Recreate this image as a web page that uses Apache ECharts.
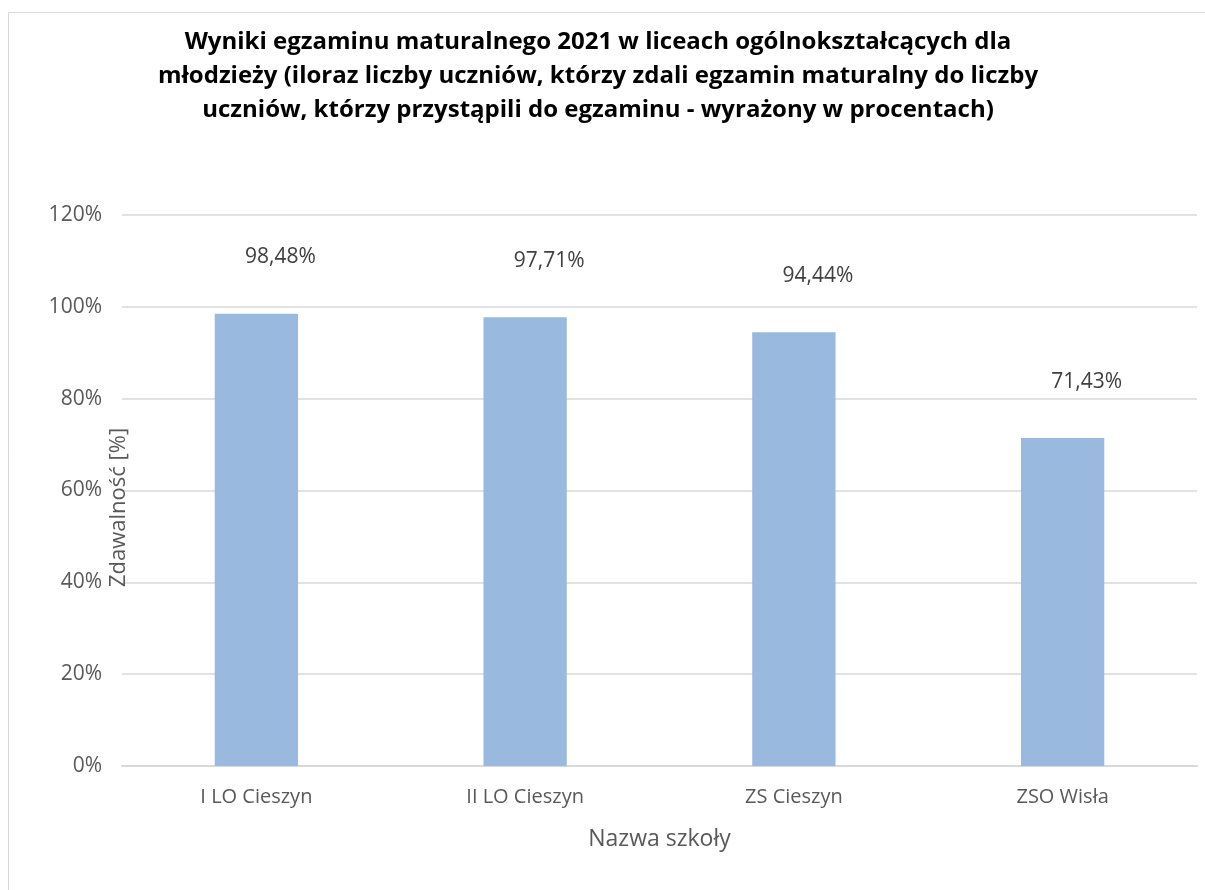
<!DOCTYPE html>
<html>
<head>
<meta charset="utf-8">
<script src="https://cdn.jsdelivr.net/npm/echarts@6/dist/echarts.min.js"></script>
<style>
  html, body { margin: 0; padding: 0; background: #fff; }
  #chart { width: 1205px; height: 890px; }
</style>
</head>
<body>
<div id="chart"></div>
<script>
// dane z wykresu
const schools = ["I LO Cieszyn", "II LO Cieszyn", "ZS Cieszyn", "ZSO Wisła"];
const passRate = [98.48, 97.71, 94.44, 71.43];
const titleText = "Wyniki egzaminu maturalnego 2021 w liceach ogólnokształcących dla\nmłodzieży (iloraz liczby uczniów, którzy zdali egzamin maturalny do liczby\nuczniów, którzy przystąpili do egzaminu - wyrażony w procentach)";

const font = "'Open Sans', 'Noto Sans', sans-serif";
const chart = echarts.init(document.getElementById("chart"));
chart.setOption({
    animation: false,
    textStyle: { fontFamily: font },
    graphic: [
        {
            type: "rect",
            shape: { x: 8.5, y: 12.5, width: 1400, height: 1000 },
            style: { fill: "none", stroke: "#d9d9d9", lineWidth: 1 },
            silent: true,
        },
    ],
    title: {
        text: titleText,
        left: 593,
        top: 20,
        textAlign: "center",
        textStyle: {
            fontFamily: font,
            fontSize: 24,
            fontWeight: "bold",
            color: "#000",
            lineHeight: 34,
        },
    },
    grid: { left: 122, right: 8, top: 215, bottom: 124, containLabel: false },
    xAxis: {
        type: "category",
        data: schools,
        name: "Nazwa szkoły",
        nameLocation: "middle",
        nameGap: 62,
        nameTextStyle: { fontSize: 23, color: "#595959", fontFamily: font },
        axisLine: { lineStyle: { color: "#d9d9d9", width: 2 } },
        axisTick: { show: false },
        axisLabel: { fontSize: 20, color: "#595959", margin: 21 },
    },
    yAxis: {
        type: "value",
        min: 0,
        max: 120,
        interval: 20,
        name: "Zdawalność [%]",
        nameLocation: "middle",
        nameRotate: 90,
        nameGap: -8,
        nameMoveOverlap: false,
        nameTextStyle: {
            fontSize: 22,
            color: "#595959",
            fontFamily: font,
            padding: [0, 34, 0, 0],
        },
        axisLine: { show: false },
        axisTick: { show: false },
        axisLabel: {
            fontSize: 21,
            color: "#595959",
            margin: 20,
            formatter: (v) => v + "%",
        },
        splitLine: { lineStyle: { color: "#d9d9d9", width: 1.5 } },
    },
    series: [
        {
            type: "bar",
            data: passRate,
            barWidth: "31%",
            itemStyle: { color: "#99b9df" },
            label: {
                show: true,
                position: "top",
                distance: 46,
                offset: [24, 0],
                fontSize: 21,
                color: "#404040",
                formatter: (p) => p.value.toFixed(2).replace(".", ",") + "%",
            },
        },
    ],
});
</script>
</body>
</html>
